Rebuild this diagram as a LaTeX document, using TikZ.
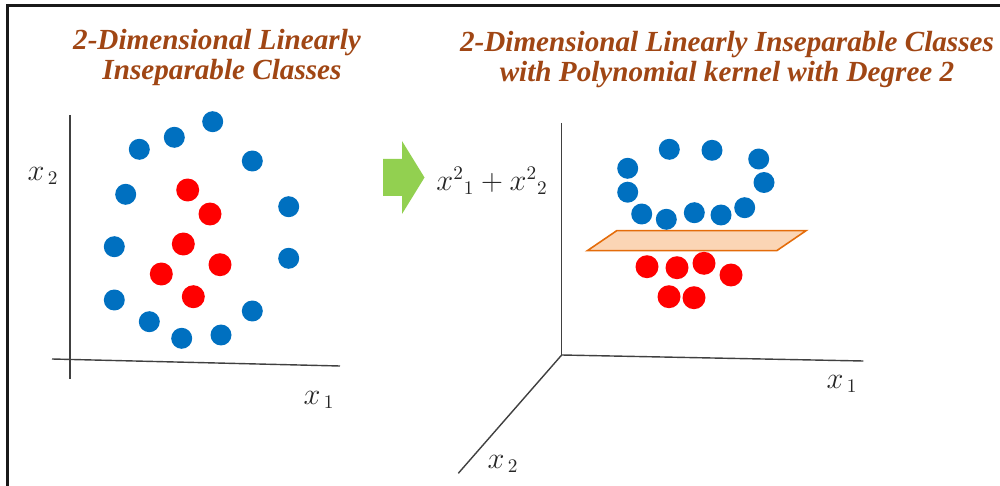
\documentclass[tikz,border=0pt]{standalone}
\usepackage{fontspec}
\newfontfamily\titlefont{Liberation Serif}
\definecolor{dotblue}{RGB}{0,112,192}
\definecolor{dotred}{RGB}{255,0,0}
\definecolor{titlebrown}{RGB}{160,70,20}
\definecolor{arrowgreen}{RGB}{146,208,80}
\definecolor{planefill}{RGB}{251,213,181}
\definecolor{planeline}{RGB}{228,108,10}
\begin{document}
\begin{tikzpicture}[x=0.02cm,y=-0.02cm,
  bdot/.style={circle,fill=dotblue,draw=none,minimum size=0.42cm,inner sep=0pt},
  rdot/.style={circle,fill=dotred,draw=none,minimum size=0.46cm,inner sep=0pt},
  titletext/.style={font=\titlefont\bfseries\itshape\fontsize{16.6}{18}\selectfont,text=titlebrown,anchor=base,inner sep=0pt},
  axis/.style={draw=black!75,line width=0.8pt},
  axlabel/.style={font=\fontsize{16}{18}\selectfont,inner sep=0pt,text=black!85}]
\useasboundingbox (0,0) rectangle (1000,486);
% frame
\coordinate (ftl) at (7.5,5.5);
\coordinate (ftr) at (1000,5.5);
\coordinate (fbl) at (7.5,486);
\draw[line width=1.6pt,black!90] (fbl) -- (ftl) -- (ftr);
% titles
\node[titletext] (tl1) at (217,50) {2-Dimensional Linearly};
\node[titletext] (tl2) at (222,80) {Inseparable Classes};
\node[titletext] (tr1) at (727,52) {2-Dimensional Linearly Inseparable Classes};
\node[titletext] (tr2) at (727,82) {with Polynomial kernel with Degree 2};
% left axes
\coordinate (lvt) at (70,115);
\coordinate (lvb) at (70,379);
\coordinate (lhl) at (52,359);
\coordinate (lhr) at (340,366);
\draw[axis] (lvt) -- (lvb);
\draw[axis] (lhl) -- (lhr);
\node[axlabel] (lx2) at (43,176) {$x_{\,2}$};
\node[axlabel] (lx1) at (319,400) {$x_{\,1}$};
% left blue dots
\node[bdot] (lb1) at (212.7,121.7) {};
\node[bdot] (lb2) at (174.3,137.3) {};
\node[bdot] (lb3) at (139.3,149.3) {};
\node[bdot] (lb4) at (252.3,161) {};
\node[bdot] (lb5) at (125.7,194.3) {};
\node[bdot] (lb6) at (288.7,206.7) {};
\node[bdot] (lb7) at (114.3,246.7) {};
\node[bdot] (lb8) at (288.7,258.3) {};
\node[bdot] (lb9) at (114.3,300) {};
\node[bdot] (lb10) at (149.3,321.7) {};
\node[bdot] (lb11) at (181.7,338.3) {};
\node[bdot] (lb12) at (221,335) {};
\node[bdot] (lb13) at (252.3,311) {};
% left red dots
\node[rdot] (lr1) at (187.7,190) {};
\node[rdot] (lr2) at (210,214) {};
\node[rdot] (lr3) at (183.3,244) {};
\node[rdot] (lr4) at (220,264.7) {};
\node[rdot] (lr5) at (161.3,274) {};
\node[rdot] (lr6) at (193.3,296.7) {};
% green arrow
\fill[arrowgreen] (383,159) -- (402,159) -- (402,141) -- (424.5,177.5) -- (402,214) -- (402,196) -- (383,196) -- cycle;
\node[axlabel] (fx) at (492,181) {$x^{2}{}_{1}+x^{2}{}_{2}$};
% right axes
\coordinate (ro) at (561.7,355);
\coordinate (rvt) at (561.7,123);
\coordinate (rhr) at (863.3,361);
\coordinate (rdl) at (458.3,473.3);
\draw[axis] (rvt) -- (ro);
\draw[axis] (ro) -- (rhr);
\draw[axis] (ro) -- (rdl);
\node[axlabel] (rx1) at (842,384) {$x_{\,1}$};
\node[axlabel] (rx2) at (503,464) {$x_{\,2}$};
% plane
\filldraw[fill=planefill,draw=planeline,line width=0.9pt] (616.7,230.7) -- (806,230.7) -- (776.7,250.7) -- (587.3,250.7) -- cycle;
% right blue dots
\node[bdot] (rb1) at (627.7,168.3) {};
\node[bdot] (rb2) at (669.3,149.3) {};
\node[bdot] (rb3) at (712,150.3) {};
\node[bdot] (rb4) at (758.7,159) {};
\node[bdot] (rb5) at (764,182.5) {};
\node[bdot] (rb6) at (627.7,192.2) {};
\node[bdot] (rb7) at (641.7,214) {};
\node[bdot] (rb8) at (666.3,219.3) {};
\node[bdot] (rb9) at (694.3,212.7) {};
\node[bdot] (rb10) at (721,215) {};
\node[bdot] (rb11) at (744.7,207.7) {};
% right red dots
\node[rdot] (rr1) at (647,266.7) {};
\node[rdot] (rr2) at (677,267.7) {};
\node[rdot] (rr3) at (704,263.3) {};
\node[rdot] (rr4) at (731,275) {};
\node[rdot] (rr5) at (669,296.7) {};
\node[rdot] (rr6) at (694,297.7) {};
\end{tikzpicture}
\end{document}
